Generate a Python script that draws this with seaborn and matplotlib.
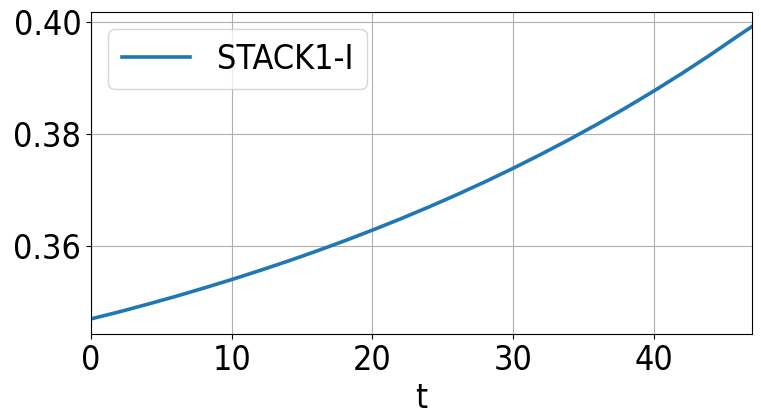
import matplotlib
matplotlib.use("Agg")
import matplotlib.pyplot as plt
import seaborn as sns
import pandas as pd

t = [0, 2, 4, 6, 8, 10, 12, 14, 16, 18, 20, 22, 24, 26, 28, 30, 32, 34, 36, 38, 40, 42, 44, 46, 47]
stack1_i = [0.3470, 0.34825, 0.34960, 0.35100, 0.35248, 0.35402, 0.35563, 0.35731, 0.35907,
            0.36091, 0.36284, 0.36485, 0.36696, 0.36916, 0.37146, 0.37387, 0.37639, 0.37902,
            0.38177, 0.38465, 0.38766, 0.39080, 0.39409, 0.39753, 0.3992]

df = pd.DataFrame({"t": t, "value": stack1_i, "series": "STACK1-I"})

plt.rcParams['font.family'] = ['DejaVu Sans']
plt.rcParams['font.stretch'] = 'condensed'
fig = plt.figure(figsize=(7.61, 4.20), dpi=100)
ax = fig.add_axes([91/761, 1 - 334/420, (752-91)/761, (334-12)/420])
sns.lineplot(data=df, x="t", y="value", hue="series", palette=["#1f77b4"], linewidth=2.6, ax=ax)
ax.set_xlim(0, 47)
ax.set_ylim(0.3443, 0.4018)
ax.set_xticks([0, 10, 20, 30, 40])
ax.set_yticks([0.36, 0.38, 0.40])
ax.set_yticklabels(["0.36", "0.38", "0.40"])
ax.tick_params(labelsize=24.5)
ax.set_xlabel("t", fontsize=24.5)
ax.set_ylabel("")
ax.grid(True, color="#b0b0b0", linewidth=0.8)
ax.legend(loc="upper left", fontsize=24.5, title=None)
fig.savefig("out.png", dpi=100)
